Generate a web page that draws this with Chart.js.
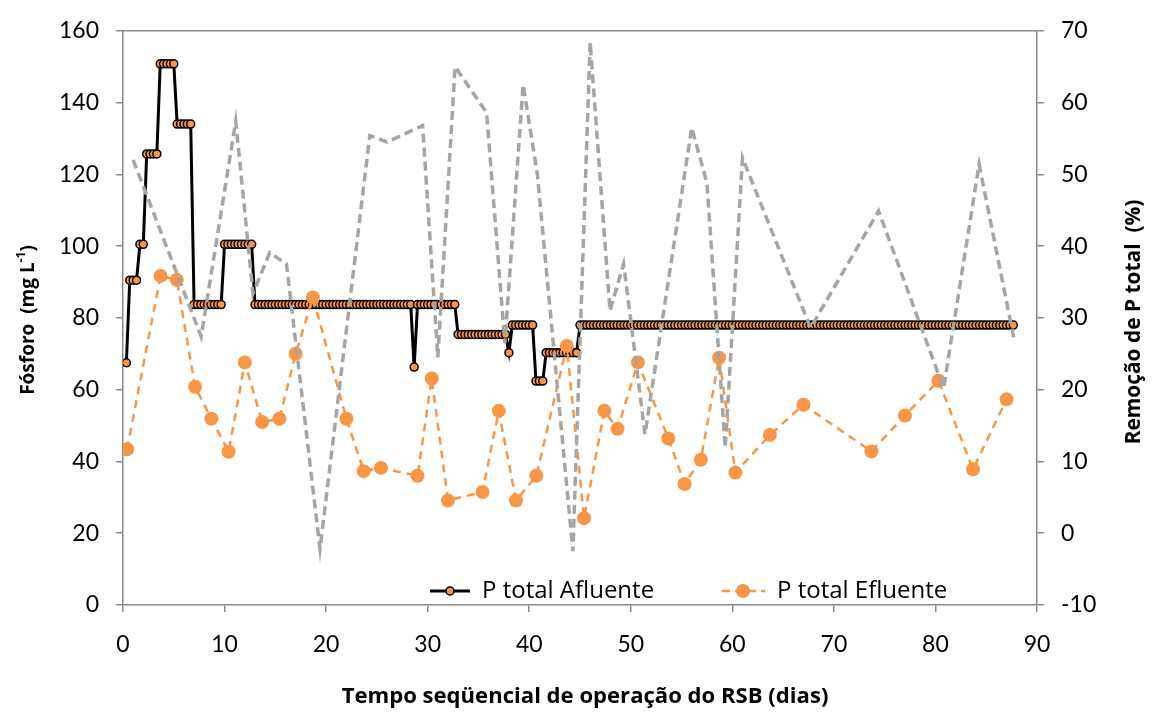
<!DOCTYPE html>
<html>
<head>
<meta charset="utf-8">
<script src="https://cdn.jsdelivr.net/npm/chart.js@4"></script>
<style>
  html, body { margin: 0; padding: 0; background: #fff; }
  canvas { display: block; }
</style>
</head>
<body>
<canvas id="chart" width="1156" height="715"></canvas>
<script>
/* Fósforo afluente / efluente e remoção ao longo da operação do RSB */

// P total afluente: um valor por ciclo (3 ciclos por dia), guardado por patamares
const CYCLES_PER_DAY = 3;
const afluLevels = [67.5, 90.5, 100.5, 125.7, 150.8, 134.0, 83.7, 100.5, 83.7, 66.3, 83.7, 75.4, 70.3, 78.0, 62.4, 70.3, 78.0];
const afluFirstCycle = [1, 2, 5, 7, 11, 16, 21, 30, 39, 86, 87, 99, 114, 115, 122, 125, 135];
const afluLastCycle = [1, 4, 6, 10, 15, 20, 29, 38, 85, 86, 98, 113, 114, 121, 124, 134, 263];

// P total efluente (mg/L)
const efluDays = [0.4, 3.7, 5.3, 7.1, 8.7, 10.4, 12.0, 13.7, 15.4, 17.0, 18.7, 22.0, 23.7, 25.4, 29.0, 30.4, 32.0, 35.4, 37.0, 38.7,
  40.7, 43.7, 45.4, 47.4, 48.7, 50.7, 53.7, 55.3, 56.9, 58.7, 60.3, 63.7, 67.0, 73.7, 77.0, 80.3, 83.7, 87.0];
const efluValues = [43.4, 91.7, 90.6, 60.8, 51.9, 42.7, 67.6, 51.0, 51.9, 70.0, 85.7, 51.9, 37.3, 38.2, 36.0, 63.1, 29.1, 31.5, 54.1, 29.1,
  36.0, 72.2, 24.2, 54.1, 49.1, 67.6, 46.4, 33.7, 40.5, 68.9, 36.9, 47.4, 55.8, 42.8, 52.8, 62.5, 37.8, 57.3];

// Remoção de P total (%)
const remDays = [1.0, 7.7, 11.1, 12.8, 14.45, 16.1, 19.4, 24.3, 26.0, 29.5, 31.0, 32.7, 35.8, 37.6, 39.4, 40.8, 44.3, 46.0, 47.95, 49.3,
  51.4, 56.0, 57.5, 59.3, 61.0, 67.7, 74.4, 80.8, 84.3, 87.7];
const remValues = [52.0, 27.4, 57.4, 33.4, 39.1, 37.5, -2.2, 55.4, 54.5, 56.8, 24.5, 65.0, 58.6, 26.5, 62.5, 50.0, -2.5, 68.4, 31.0, 37.5,
  13.8, 56.5, 48.8, 11.9, 52.3, 28.6, 44.9, 20.2, 51.4, 27.3];

const xTicks = [0, 10, 20, 30, 40, 50, 60, 70, 80, 90];
const yTicks = [0, 20, 40, 60, 80, 100, 120, 140, 160];
const y2Ticks = [-10, 0, 10, 20, 30, 40, 50, 60, 70];

const LEGEND_LABELS = ['P total Afluente', 'P total Efluente'];

const ORANGE = '#F79646';
const GRAY = '#A5A5A5';
const AXIS = '#898989';
const FONT = 'Lato, "Open Sans", sans-serif';
const TEXT_FONT = '"Open Sans", Lato, sans-serif';

function afluPoints() {
  const pts = [];
  afluLevels.forEach((v, i) => {
    for (let c = afluFirstCycle[i]; c <= afluLastCycle[i]; c++) {
      pts.push({ x: c / CYCLES_PER_DAY, y: v });
    }
  });
  return pts;
}

const pairs = (xs, ys) => xs.map((x, i) => ({ x, y: ys[i] }));

function axisStyle(ticks) {
  return {
    grid: { drawOnChartArea: false, drawTicks: true, tickLength: 7, color: AXIS, lineWidth: 1.5 },
    border: { color: AXIS, width: 1.5 },
    afterBuildTicks: (s) => { s.ticks = ticks.map(v => ({ value: v })); },
  };
}

// escolhe o tamanho da fonte para o texto ocupar a largura desejada
function fitFont(ctx, text, weight, width) {
  ctx.font = weight + ' 20px ' + TEXT_FONT;
  const size = 20 * width / ctx.measureText(text).width;
  return weight + ' ' + size.toFixed(1) + 'px ' + TEXT_FONT;
}

// títulos, legenda e borda superior
const decorations = {
  id: 'decorations',
  afterDraw(chart) {
    const ctx = chart.ctx;
    const a = chart.chartArea;
    ctx.save();

    ctx.strokeStyle = AXIS;
    ctx.lineWidth = 1.5;
    ctx.beginPath();
    ctx.moveTo(a.left, a.top);
    ctx.lineTo(a.right, a.top);
    ctx.stroke();

    ctx.fillStyle = '#000';
    ctx.textBaseline = 'middle';

    // eixo x
    const xTitle = 'Tempo seqüencial de operação do RSB (dias)';
    ctx.font = fitFont(ctx, xTitle, 'bold', 486);
    ctx.textAlign = 'center';
    ctx.fillText(xTitle, 585, 697);

    // eixo y esquerdo, com expoente
    ctx.save();
    ctx.translate(29, 320);
    ctx.rotate(-Math.PI / 2);
    const main = 'Fósforo  (mg L';
    const sup = '-1';
    const tail = ')';
    ctx.font = 'bold 19px ' + TEXT_FONT;
    const wMain = ctx.measureText(main).width;
    const wTail = ctx.measureText(tail).width;
    ctx.font = 'bold 12px ' + TEXT_FONT;
    const wSup = ctx.measureText(sup).width;
    let x = -(wMain + wSup + wTail) / 2;
    ctx.textAlign = 'left';
    ctx.font = 'bold 19px ' + TEXT_FONT;
    ctx.fillText(main, x, 0);
    x += wMain;
    ctx.font = 'bold 12px ' + TEXT_FONT;
    ctx.fillText(sup, x, -7);
    x += wSup;
    ctx.font = 'bold 19px ' + TEXT_FONT;
    ctx.fillText(tail, x, 0);
    ctx.restore();

    // eixo y direito
    ctx.save();
    ctx.translate(1134, 322);
    ctx.rotate(-Math.PI / 2);
    const rTitle = 'Remoção de P total  (%)';
    ctx.font = fitFont(ctx, rTitle, 'bold', 245);
    ctx.textAlign = 'center';
    ctx.fillText(rTitle, 0, 0);
    ctx.restore();

    // legenda
    const ly = 591;
    ctx.textAlign = 'left';

    ctx.strokeStyle = '#000';
    ctx.lineWidth = 3;
    ctx.beginPath();
    ctx.moveTo(430, ly);
    ctx.lineTo(470, ly);
    ctx.stroke();
    ctx.beginPath();
    ctx.arc(450, ly, 4, 0, Math.PI * 2);
    ctx.fillStyle = ORANGE;
    ctx.fill();
    ctx.lineWidth = 1.5;
    ctx.stroke();
    ctx.fillStyle = '#000';
    ctx.font = '24px ' + TEXT_FONT;
    ctx.fillText(LEGEND_LABELS[0], 482, ly);

    ctx.strokeStyle = ORANGE;
    ctx.lineWidth = 2.5;
    ctx.setLineDash([8, 5]);
    ctx.beginPath();
    ctx.moveTo(722, ly);
    ctx.lineTo(765, ly);
    ctx.stroke();
    ctx.setLineDash([]);
    ctx.beginPath();
    ctx.arc(743, ly, 7, 0, Math.PI * 2);
    ctx.fillStyle = ORANGE;
    ctx.fill();
    ctx.fillStyle = '#000';
    ctx.fillText(LEGEND_LABELS[1], 777, ly);

    ctx.restore();
  }
};

new Chart(document.getElementById('chart'), {
  type: 'line',
  data: {
    datasets: [
      {
        label: 'Remoção',
        data: pairs(remDays, remValues),
        yAxisID: 'y2',
        borderColor: GRAY,
        borderWidth: 3.5,
        borderDash: [9, 5],
        pointRadius: 0,
        tension: 0,
      },
      {
        label: LEGEND_LABELS[1],
        data: pairs(efluDays, efluValues),
        yAxisID: 'y',
        borderColor: ORANGE,
        borderWidth: 2.5,
        borderDash: [8, 6],
        pointRadius: 7,
        pointBackgroundColor: ORANGE,
        pointBorderColor: ORANGE,
        pointBorderWidth: 0,
        tension: 0,
      },
      {
        label: LEGEND_LABELS[0],
        data: afluPoints(),
        yAxisID: 'y',
        borderColor: '#000',
        borderWidth: 3,
        pointRadius: 4,
        pointBackgroundColor: ORANGE,
        pointBorderColor: '#000',
        pointBorderWidth: 1.5,
        tension: 0,
      },
    ]
  },
  options: {
    responsive: false,
    animation: false,
    devicePixelRatio: 1,
    layout: { padding: { top: 22, left: 0, right: 0, bottom: 0 } },
    plugins: { legend: { display: false }, tooltip: { enabled: false } },
    scales: {
      x: {
        type: 'linear',
        min: 0, max: 90,
        ...axisStyle(xTicks),
        ticks: { color: '#000', font: { family: FONT, size: 23 }, padding: 19, maxRotation: 0 },
        afterFit: (s) => { s.height = 110; },
      },
      y: {
        position: 'left',
        min: 0, max: 160,
        ...axisStyle(yTicks),
        ticks: { color: '#000', font: { family: FONT, size: 23 }, padding: 17 },
        afterFit: (s) => { s.width = 123; },
      },
      y2: {
        position: 'right',
        min: -10, max: 70,
        ...axisStyle(y2Ticks),
        ticks: { color: '#000', font: { family: FONT, size: 23 }, padding: 17 },
        afterFit: (s) => { s.width = 119; },
      },
    }
  },
  plugins: [decorations]
});
</script>
</body>
</html>
